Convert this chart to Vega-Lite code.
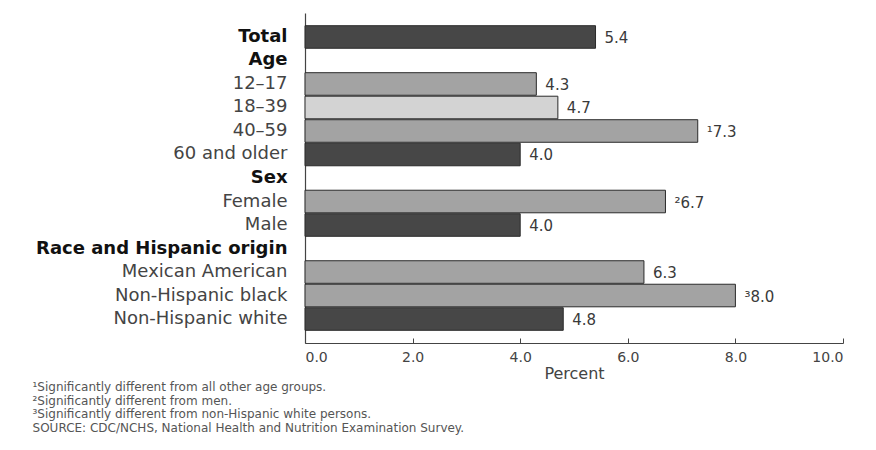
{
  "$schema": "https://vega.github.io/schema/vega-lite/v6.json",
  "autosize": {"type": "none"},
  "width": 538,
  "height": 330,
  "padding": {"left": 305, "top": 13, "right": 33, "bottom": 107},
  "background": "white",
  "config": {
    "view": {"stroke": null},
    "font": "DejaVu Sans"
  },
  "title": {
    "text": [
      "¹Significantly different from all other age groups.",
      "²Significantly different from men.",
      "³Significantly different from non-Hispanic white persons.",
      "SOURCE:  CDC/NCHS, National Health and Nutrition Examination Survey."
    ],
    "orient": "bottom",
    "anchor": "start",
    "frame": "bounds",
    "dx": -3,
    "offset": 1,
    "font": "DejaVu Sans",
    "fontSize": 12,
    "fontWeight": "normal",
    "lineHeight": 13.5,
    "color": "#555555"
  },
  "data": {
    "values": [
      {"group": "Total", "percent": 5.4, "label": "5.4", "shade": "dark"},
      {"group": "12–17", "percent": 4.3, "label": "4.3", "shade": "medium"},
      {"group": "18–39", "percent": 4.7, "label": "4.7", "shade": "light"},
      {"group": "40–59", "percent": 7.3, "label": "¹7.3", "shade": "medium"},
      {"group": "60 and older", "percent": 4.0, "label": "4.0", "shade": "dark"},
      {"group": "Female", "percent": 6.7, "label": "²6.7", "shade": "medium"},
      {"group": "Male", "percent": 4.0, "label": "4.0", "shade": "dark"},
      {"group": "Mexican American", "percent": 6.3, "label": "6.3", "shade": "medium"},
      {"group": "Non-Hispanic black", "percent": 8.0, "label": "³8.0", "shade": "medium"},
      {"group": "Non-Hispanic white", "percent": 4.8, "label": "4.8", "shade": "dark"}
    ]
  },
  "encoding": {
    "y": {
      "field": "group",
      "type": "nominal",
      "scale": {
        "domain": ["Total", "Age", "12–17", "18–39", "40–59", "60 and older", "Sex", "Female", "Male", "Race and Hispanic origin", "Mexican American", "Non-Hispanic black", "Non-Hispanic white"],
        "paddingInner": 0.04,
        "paddingOuter": 0.54
      },
      "axis": {
        "title": null,
        "ticks": false,
        "domainColor": "#444444",
        "domainWidth": 1.2,
        "labelPadding": 18,
        "labelFont": "DejaVu Sans",
        "labelFontSize": 18,
        "labelColor": {
          "condition": {"test": "indexof(['Total','Age','Sex','Race and Hispanic origin'], datum.value) >= 0", "value": "#111111"},
          "value": "#444444"
        },
        "labelFontWeight": {
          "condition": {"test": "indexof(['Total','Age','Sex','Race and Hispanic origin'], datum.value) >= 0", "value": "bold"},
          "value": "normal"
        },
        "labelLimit": 400
      }
    },
    "x": {
      "field": "percent",
      "type": "quantitative",
      "scale": {"domain": [0, 10], "nice": false},
      "axis": {
        "title": "Percent",
        "values": [0, 2, 4, 6, 8, 10],
        "format": ".1f",
        "grid": false,
        "tickSize": -5,
        "tickColor": "#444444",
        "domainColor": "#444444",
        "domainWidth": 1.2,
        "labelFont": "DejaVu Sans",
        "labelFontSize": 14,
        "labelColor": "#444444",
        "labelPadding": 12,
        "titleFont": "DejaVu Sans",
        "titleFontSize": 16,
        "titleFontWeight": "normal",
        "titleColor": "#444444",
        "titlePadding": 1
      }
    }
  },
  "layer": [
    {
      "mark": {"type": "bar", "stroke": "#2a2a2a", "strokeWidth": 1},
      "encoding": {
        "color": {
          "field": "shade",
          "type": "nominal",
          "scale": {"domain": ["dark", "medium", "light"], "range": ["#474747", "#a3a3a3", "#d3d3d3"]},
          "legend": null
        }
      }
    },
    {
      "mark": {"type": "text", "align": "left", "baseline": "middle", "dx": 9, "dy": 1, "font": "DejaVu Sans", "fontSize": 15, "color": "#3a3a3a"},
      "encoding": {
        "text": {"field": "label"}
      }
    }
  ]
}
